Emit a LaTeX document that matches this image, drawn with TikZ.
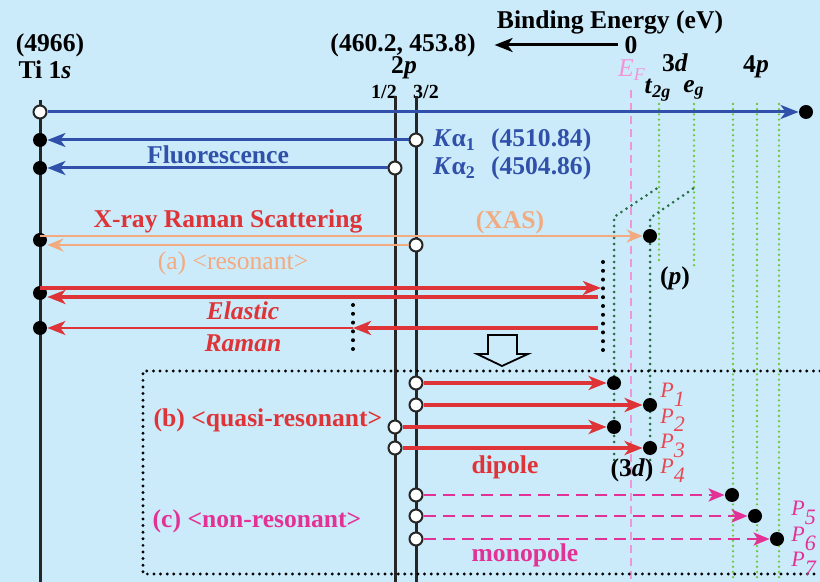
\documentclass[tikz,border=0pt]{standalone}
\usepackage{fontspec}
\setmainfont{Liberation Serif}
\usetikzlibrary{arrows.meta}
\definecolor{bgblue}{RGB}{204,235,250}
\definecolor{fblue}{RGB}{48,80,170}
\definecolor{xorange}{RGB}{242,170,128}
\definecolor{rred}{RGB}{222,52,56}
\definecolor{pred}{RGB}{232,72,82}
\definecolor{mpink}{RGB}{226,50,150}
\definecolor{efpink}{RGB}{240,150,215}
\definecolor{lgreen}{RGB}{110,200,60}
\definecolor{dgreen}{RGB}{40,110,70}
\newcommand\pdig[1]{\raisebox{-0.4em}{#1}}

\begin{document}
\begin{tikzpicture}[x=0.5pt,y=-0.5pt,
    font=\fontsize{12.8}{14}\selectfont\bfseries,
    level/.style={line width=1.5pt, black!85},
    opendot/.style={circle, draw=black!85, fill=white, line width=1pt,
                    minimum size=6.5pt, inner sep=0pt},
    fulldot/.style={circle, fill=black, minimum size=7pt, inner sep=0pt},
    bluearrow/.style={-{Stealth[length=9pt, width=7pt, inset=2.5pt]}, line width=1.5pt, fblue},
    orangearrow/.style={-{Stealth[length=8pt, width=6.5pt, inset=2.5pt]}, line width=1.4pt, xorange},
    redarrow/.style={-{Stealth[length=9pt, width=7pt, inset=2.5pt]}, line width=1.8pt, rred},
    monoarrow/.style={-{Stealth[length=8pt, width=6.5pt, inset=2pt]}, line width=1.4pt, mpink,
                      dash pattern=on 6pt off 3.5pt},
    blackdots/.style={line width=2pt, line cap=round, dash pattern=on 0pt off 4.4pt},
    boxdots/.style={line width=1.6pt, line cap=round, dash pattern=on 0pt off 3.3pt},
    greendots/.style={line width=1.3pt, line cap=round, lgreen, dash pattern=on 0pt off 2.6pt},
    dgreendots/.style={line width=1.5pt, line cap=round, dgreen, dash pattern=on 0pt off 3pt},
    efline/.style={line width=1pt, efpink, dash pattern=on 4pt off 2.5pt},
    small/.style={font=\fontsize{10}{12}\selectfont\bfseries},
    plabel/.style={font=\fontsize{11}{10.9}\selectfont\itshape, align=left,
                   anchor=north west, inner sep=0pt}
]
\fill[bgblue] (0,0) rectangle (820,582);
\useasboundingbox (0,0) rectangle (820,582);

% header
\node (bind) at (610,22) {Binding Energy (eV)};
\node (core) at (403,45) {(460.2, 453.8)};
\node (zero) at (631,45) {0};
\draw[-{Stealth[length=9pt, width=7pt, inset=2.5pt]}, line width=1.5pt]
     (zero.west) -- ([xshift=6pt]core.east);
\node (ks) at (50,45) {(4966)};
\node (ti) at (45,70) {Ti 1\textit{s}};
\node (twop) at (404,68) {2\textit{p}};
\node[small] (half) at (384,92) {1/2};
\node[small] (thalf) at (426,92) {3/2};
\node[efpink, font=\fontsize{12.8}{14}\selectfont\itshape] (ef) at (632,70) {E\textsubscript{F}};
\node[inner sep=0.5pt] (thd) at (675,63) {3\textit{d}};
\node[inner sep=0.5pt] (ttg) at (658,90) {\textit{t}\textsubscript{\textit{2g}}};
\node[inner sep=0.5pt] (eg) at (694,90) {\textit{e}\textsubscript{\textit{g}}};
\node (fp) at (756,67) {4\textit{p}};

% levels
\draw[level] (40,100) -- (40,582);
\draw[level] (395,96) -- (395,582);
\draw[level] (416,96) -- (416,582);
\draw[efline] (631,90) -- (631,582);
\draw[greendots] (659,104) -- (659,262);
\draw[greendots] (694,104) -- (694,268);
\foreach \x in {733,757,779}
  \draw[greendots] (\x,104) -- (\x,582);
\draw[dgreendots] (614,460) -- (614,217) -- (659,187);
\draw[dgreendots] (650,460) -- (650,218) -- (694,188);
\draw[blackdots] (603,262) -- (603,350);
\draw[blackdots] (353,305) -- (353,353);
\draw[boxdots] (820,371) -- (143,371) -- (143,574) -- (820,574);

% hollow arrow
\draw[line width=0.9pt, fill=bgblue] (488,335) -- (517,335) -- (517,354) -- (528,354)
     -- (502,366) -- (477,354) -- (488,354) -- cycle;

% dots
\node[opendot] (s1) at (40,112) {};
\node[fulldot] (top) at (806,112) {};
\node[fulldot] (ka1s) at (40,140) {};
\node[opendot] (ka1p) at (416,140) {};
\node[fulldot] (ka2s) at (40,168) {};
\node[opendot] (ka2p) at (395,168) {};
\node[fulldot] (xs) at (40,240) {};
\node[fulldot] (xasd) at (650,236) {};
\node[opendot] (xp) at (416,245) {};
\node[fulldot] (es) at (40,293) {};
\node[fulldot] (rs) at (40,328) {};
\coordinate (xa) at (40,236);
\coordinate (eu) at (40,288);
\coordinate (ee) at (601,288);
\coordinate (el) at (598,297);
\coordinate (rr) at (598,328);
\coordinate (rm) at (353,328);

\node[opendot] (d1) at (416,383) {};
\node[opendot] (d2) at (416,405) {};
\node[opendot] (d3) at (395,427) {};
\node[opendot] (d4) at (395,448) {};
\node[fulldot] (p1) at (614,383) {};
\node[fulldot] (p2) at (650,405) {};
\node[fulldot] (p3) at (614,427) {};
\node[fulldot] (p4) at (650,448) {};
\node[opendot] (m1) at (416,495) {};
\node[opendot] (m2) at (416,516) {};
\node[opendot] (m3) at (416,539) {};
\node[fulldot] (p5) at (732,495) {};
\node[fulldot] (p6) at (755,516) {};
\node[fulldot] (p7) at (777,539) {};

% transitions
\draw[bluearrow] (s1) -- (top);
\draw[bluearrow] (ka1p) -- (ka1s);
\draw[bluearrow] (ka2p) -- (ka2s);
\draw[orangearrow] (xa) -- (xasd);
\draw[orangearrow] (xp) -- (xs.east |- xp);
\draw[redarrow] (eu) -- (ee);
\draw[redarrow] (el) -- (es.east |- el);
\draw[redarrow] (rr) -- (rm);
\draw[redarrow, line width=1.3pt] (rm) -- (rs);
\draw[redarrow] (d1) -- (p1);
\draw[redarrow] (d2) -- (p2);
\draw[redarrow] (d3) -- (p3);
\draw[redarrow] (d4) -- (p4);
\draw[monoarrow] (m1) -- (p5);
\draw[monoarrow] (m2) -- (p6);
\draw[monoarrow] (m3) -- (p7);

% labels
\node[fblue] at (218,155) {Fluorescence};
\node[fblue, anchor=west] at (426,140) {\textit{K}α\textsubscript{1}};
\node[fblue, anchor=west] at (426,168) {\textit{K}α\textsubscript{2}};
\node[fblue, anchor=west] at (484,140) {(4510.84)};
\node[fblue, anchor=west] at (484,168) {(4504.86)};
\node[rred] at (228,221) {X-ray Raman Scattering};
\node[xorange] at (510,222) {(XAS)};
\node[xorange, font=\fontsize{12.8}{14}\selectfont] at (233,263) {(a) <resonant>};
\node[rred, font=\fontsize{12.8}{14}\selectfont\bfseries\itshape] at (243,311) {Elastic};
\node[rred, font=\fontsize{12.8}{14}\selectfont\bfseries\itshape] at (243,343) {Raman};
\node at (675,278) {(\textit{p})};
\node[rred] at (268,420) {(b) <quasi-resonant>};
\node[rred] at (505,467) {dipole};
\node at (632,470) {(3\textit{d})};
\node[mpink] at (257,521) {(c) <non-resonant>};
\node[mpink] at (525,555) {monopole};
\node[plabel, pred] (pdip) at (660,383) {P\pdig{1}\\P\pdig{2}\\P\pdig{3}\\P\pdig{4}};
\node[plabel, mpink] (pmono) at (791,501) {P\pdig{5}\\P\pdig{6}\\P\pdig{7}};
\end{tikzpicture}
\end{document}
